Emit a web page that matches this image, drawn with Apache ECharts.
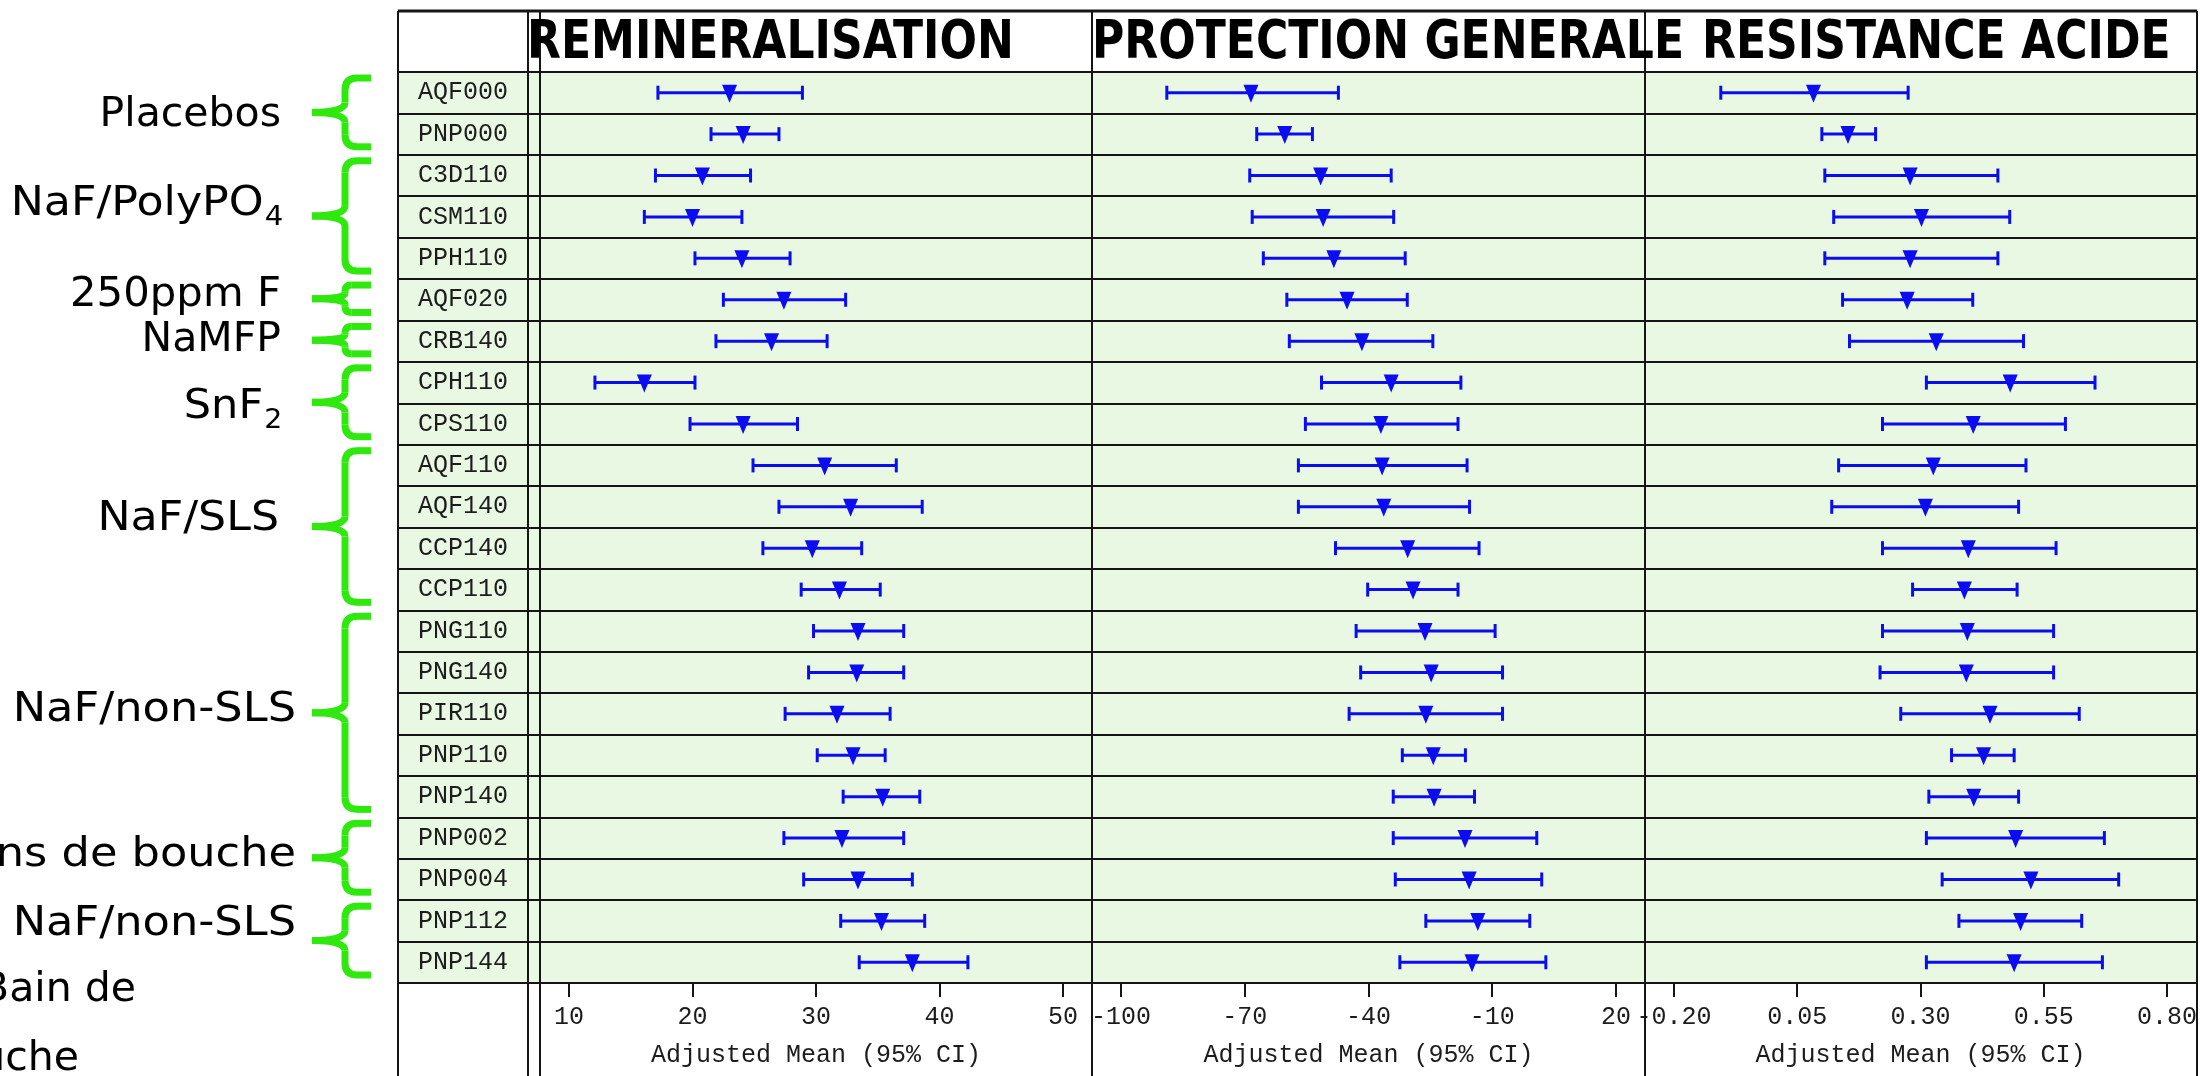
<!DOCTYPE html>
<html>
<head>
<meta charset="utf-8">
<script src="https://cdn.jsdelivr.net/npm/echarts@6/dist/echarts.min.js"></script>
<style>
  html, body { margin: 0; padding: 0; background: #ffffff; }
  #chart { width: 2200px; height: 1076px; }
</style>
</head>
<body>
<div id="chart"></div>
<script>
// Product codes, top to bottom
const products = ['AQF000','PNP000','C3D110','CSM110','PPH110','AQF020','CRB140','CPH110','CPS110',
  'AQF110','AQF140','CCP140','CCP110','PNG110','PNG140','PIR110','PNP110','PNP140','PNP002','PNP004','PNP112','PNP144'];

// REMINERALISATION: adjusted means with 95% CI
const remLow  = [17.2, 21.5, 17.0, 16.1, 20.2, 22.5, 21.9, 12.1, 19.8, 24.9, 27.0, 25.7, 28.8, 29.8, 29.4, 27.5, 30.1, 32.2, 27.4, 29.0, 32.0, 33.5];
const remMean = [23.0, 24.1, 20.8, 20.0, 24.0, 27.4, 26.4, 16.1, 24.1, 30.7, 32.8, 29.7, 31.9, 33.4, 33.3, 31.7, 33.0, 35.4, 32.1, 33.4, 35.3, 37.8];
const remHigh = [28.9, 27.0, 24.7, 24.0, 27.9, 32.4, 30.9, 20.2, 28.5, 36.5, 38.6, 33.7, 35.2, 37.1, 37.1, 36.0, 35.6, 38.4, 37.1, 37.8, 38.8, 42.3];

// PROTECTION GENERALE
const protLow  = [-88.9, -67.1, -68.8, -68.2, -65.5, -59.8, -59.2, -51.4, -55.3, -57.0, -57.0, -48.0, -40.2, -43.0, -41.9, -44.7, -31.8, -34.0, -34.0, -33.5, -26.1, -32.4];
const protMean = [-68.5, -60.3, -51.6, -51.0, -48.4, -45.2, -41.6, -34.5, -37.0, -36.7, -36.3, -30.5, -29.2, -26.3, -24.8, -26.1, -24.3, -24.1, -16.6, -15.6, -13.5, -14.9];
const protHigh = [-47.3, -53.6, -34.5, -33.9, -31.1, -30.6, -24.4, -17.6, -18.3, -16.1, -15.5, -13.2, -18.3, -9.3, -7.5, -7.5, -16.5, -14.3, 0.8, 2.0, -0.9, 3.0];

// RESISTANCE ACIDE
const acidLow  = [-0.105, 0.100, 0.106, 0.124, 0.106, 0.142, 0.156, 0.312, 0.223, 0.134, 0.120, 0.223, 0.284, 0.223, 0.218, 0.260, 0.363, 0.317, 0.312, 0.344, 0.378, 0.312];
const acidMean = [0.083, 0.153, 0.279, 0.302, 0.279, 0.273, 0.332, 0.482, 0.407, 0.326, 0.310, 0.397, 0.389, 0.395, 0.393, 0.441, 0.428, 0.408, 0.493, 0.524, 0.503, 0.490];
const acidHigh = [0.275, 0.209, 0.457, 0.481, 0.457, 0.406, 0.509, 0.654, 0.594, 0.514, 0.499, 0.575, 0.496, 0.570, 0.570, 0.622, 0.490, 0.499, 0.673, 0.702, 0.627, 0.669];

// Axis ticks of each panel
const remTicks  = [10, 20, 30, 40, 50];
const protTicks = [-100, -70, -40, -10, 20];
const acidTicks = [-0.20, 0.05, 0.30, 0.55, 0.80];

const panelTitles = ['REMINERALISATION', 'PROTECTION GENERALE', 'RESISTANCE ACIDE'];
const axisTitle = 'Adjusted Mean (95% CI)';

// Product groups (first and last row of each brace); subscripts written apart
const groupNames = ['Placebos', 'NaF/PolyPO', '250ppm F', 'NaMFP', 'SnF', 'NaF/SLS', 'NaF/non-SLS', 'Bains de bouche', 'NaF/non-SLS'];
const groupSubs  = ['', '4', '', '', '2', '', '', '', ''];
const groupFirst = [0, 2, 5, 6, 7, 9, 13, 18, 20];
const groupLast  = [1, 4, 5, 6, 8, 12, 17, 19, 21];
const footNotes = ['Bain de', 'bouche'];

// ---- layout and styles ----
const BLUE = '#0c0cf0';
const GREEN_BG = '#e8f8e3';
const RULE = '#151515';
const BRACE = '#2fe80e';
const MONO = '"Liberation Mono", "DejaVu Sans Mono", monospace';
const SANS = '"DejaVu Sans", Verdana, sans-serif';
const TITLE_FONT = 'bold 49px "DejaVu Sans Condensed", "DejaVu Sans", sans-serif';

const TABLE_LEFT = 398, LABEL_RIGHT = 528, TABLE_RIGHT = 2197;
const PANEL_X = [540, 1092, 1645, 2197];
const TOP = 11, HEAD_BOTTOM = 72, ROWS_BOTTOM = 983, PAGE_BOTTOM = 1076;
const TITLE_X = [527, 1092, 1702];
const TICK_PAD = 0.0587;   // share of the tick span left free on each side of a panel
const labelRight = [281, 282, 281, 281, 281, 279, 296, 296, 296];
const labelShift = [3, -12, -3, 0, 5, -7, -2, -2, -16];
const labelScale = [1.0, 1.08, 1.02, 1.0, 1.05, 1.08, 1.09, 1.09, 1.09];

const panels = [
  { ticks: remTicks,  low: remLow,  mean: remMean,  high: remHigh,  fmt: v => String(v) },
  { ticks: protTicks, low: protLow, mean: protMean, high: protHigh, fmt: v => String(v) },
  { ticks: acidTicks, low: acidLow, mean: acidMean, high: acidHigh, fmt: v => v.toFixed(2) }
];

const chart = echarts.init(document.getElementById('chart'), null, { renderer: 'canvas' });

const grids = [];
const xAxes = [];
const yAxes = [];
const series = [];

// label column (row names)
grids.push({ left: TABLE_LEFT, top: HEAD_BOTTOM, width: PANEL_X[0] - TABLE_LEFT, height: ROWS_BOTTOM - HEAD_BOTTOM,
  show: true, backgroundColor: GREEN_BG, borderWidth: 0 });
xAxes.push({ type: 'value', gridIndex: 0, show: false, min: 0, max: 1 });
yAxes.push({
  type: 'category', gridIndex: 0, data: products, inverse: true,
  axisLine: { show: false }, axisTick: { show: false },
  splitLine: { show: true, interval: 0, lineStyle: { color: RULE, width: 2 } },
  axisLabel: { show: true, inside: true, interval: 0, margin: 20, fontFamily: MONO, fontSize: 25, color: '#1c1c1c' }
});

panels.forEach((p, i) => {
  const gi = i + 1;
  const span = p.ticks[p.ticks.length - 1] - p.ticks[0];
  grids.push({ left: PANEL_X[i], top: HEAD_BOTTOM, width: PANEL_X[i + 1] - PANEL_X[i], height: ROWS_BOTTOM - HEAD_BOTTOM,
    show: true, backgroundColor: GREEN_BG, borderWidth: 0 });
  xAxes.push({
    type: 'value', gridIndex: gi,
    min: p.ticks[0] - span * TICK_PAD,
    max: p.ticks[p.ticks.length - 1] + span * TICK_PAD,
    axisLine: { show: false },
    splitLine: { show: false },
    axisTick: { show: true, customValues: p.ticks, length: 14, lineStyle: { color: RULE, width: 2 } },
    axisLabel: { customValues: p.ticks, formatter: p.fmt, fontFamily: MONO, fontSize: 25, color: '#1c1c1c', margin: 22 },
    name: axisTitle, nameLocation: 'middle', nameGap: 60,
    nameTextStyle: { fontFamily: MONO, fontSize: 25, color: '#1c1c1c' }
  });
  yAxes.push({
    type: 'category', gridIndex: gi, data: products, inverse: true,
    axisLine: { show: false }, axisTick: { show: false }, axisLabel: { show: false },
    splitLine: { show: true, interval: 0, lineStyle: { color: RULE, width: 2 } }
  });
  // confidence interval bars
  series.push({
    type: 'custom', xAxisIndex: gi, yAxisIndex: gi, z: 3,
    data: products.map((name, k) => [p.low[k], p.high[k], name]),
    encode: { x: [0, 1], y: 2 },
    renderItem: function (params, api) {
      const row = api.value(2);
      const a = api.coord([api.value(0), row]);
      const b = api.coord([api.value(1), row]);
      const cap = 7;
      const style = { stroke: BLUE, lineWidth: 3 };
      return {
        type: 'group',
        children: [
          { type: 'line', shape: { x1: a[0], y1: a[1], x2: b[0], y2: b[1] }, style },
          { type: 'line', shape: { x1: a[0], y1: a[1] - cap, x2: a[0], y2: a[1] + cap }, style },
          { type: 'line', shape: { x1: b[0], y1: b[1] - cap, x2: b[0], y2: b[1] + cap }, style }
        ]
      };
    },
    silent: true
  });
  // adjusted means
  series.push({
    type: 'scatter', xAxisIndex: gi, yAxisIndex: gi, z: 4,
    data: products.map((name, k) => [p.mean[k], name]),
    symbol: 'triangle', symbolRotate: 180, symbolSize: [15, 18], symbolOffset: [0, 1],
    itemStyle: { color: BLUE, opacity: 1 },
    silent: true
  });
});

chart.setOption({
  animation: false,
  backgroundColor: '#ffffff',
  grid: grids,
  xAxis: xAxes,
  yAxis: yAxes,
  series: series
});

// ---- table rules, titles, group braces ----
const graphics = [];
function rule(x1, y1, x2, y2, w) {
  graphics.push({ type: 'line', z: 50, silent: true,
    shape: { x1, y1, x2, y2 }, style: { stroke: RULE, lineWidth: w || 2 } });
}
rule(TABLE_LEFT, TOP, TABLE_RIGHT, TOP, 3);
rule(TABLE_LEFT, HEAD_BOTTOM, TABLE_RIGHT, HEAD_BOTTOM, 2);
rule(TABLE_LEFT, ROWS_BOTTOM, TABLE_RIGHT, ROWS_BOTTOM, 2);
[TABLE_LEFT, LABEL_RIGHT].concat(PANEL_X).forEach(x => rule(x, TOP, x, PAGE_BOTTOM, 2));

panelTitles.forEach((t, i) => {
  graphics.push({ type: 'text', z: 60, silent: true,
    x: TITLE_X[i], y: (TOP + HEAD_BOTTOM) / 2 + 3, scaleY: 1.08,
    style: { text: t, x: 0, y: 0, align: 'left', verticalAlign: 'middle',
      font: TITLE_FONT, fill: '#000000' } });
});

const rowY = k => chart.convertToPixel({ yAxisIndex: 0 }, products[k]);
const rowH = rowY(1) - rowY(0);
const HOOK_X = 371, STEM_X = 345, TIP_X = 312;

function braceParts(y0, y1) {
  const ym = (y0 + y1) / 2;
  const r = Math.min(12, (ym - y0) / 2.2);
  const rm = Math.min(10, (ym - y0) / 2.5);
  const st = { stroke: BRACE, lineWidth: 7, fill: null, lineCap: 'butt' };
  const seg = (x1, yA, x2, yB) => ({ type: 'line', shape: { x1, y1: yA, x2, y2: yB }, style: st });
  const curve = (x1, yA, cx, cy, x2, yB) => ({ type: 'bezierCurve',
    shape: { x1, y1: yA, cpx1: cx, cpy1: cy, x2, y2: yB }, style: st });
  return [
    seg(HOOK_X, y0, STEM_X + r, y0),
    curve(STEM_X + r, y0, STEM_X, y0, STEM_X, y0 + r),
    seg(STEM_X, y0 + r, STEM_X, ym - rm),
    curve(STEM_X, ym - rm, STEM_X, ym, TIP_X, ym),
    curve(TIP_X, ym, STEM_X, ym, STEM_X, ym + rm),
    seg(STEM_X, ym + rm, STEM_X, y1 - r),
    curve(STEM_X, y1 - r, STEM_X, y1, STEM_X + r, y1),
    seg(STEM_X + r, y1, HOOK_X, y1)
  ];
}

const SUB_W = 17;
groupNames.forEach((name, g) => {
  const y0 = rowY(groupFirst[g]) - rowH / 2 + 6;
  const y1 = rowY(groupLast[g]) + rowH / 2 - 8;
  const ym = (y0 + y1) / 2;
  graphics.push({ type: 'group', z: 40, silent: true, children: braceParts(y0, y1) });
  const subW = groupSubs[g] ? SUB_W : 0;
  const children = [{ type: 'text', style: { text: name, x: -subW, y: 0, align: 'right', verticalAlign: 'middle',
    font: '41px ' + SANS, fill: '#000000' } }];
  if (groupSubs[g]) {
    children.push({ type: 'text', style: { text: groupSubs[g], x: -subW + 1, y: 14, align: 'left', verticalAlign: 'middle',
      font: '27px ' + SANS, fill: '#000000' } });
  }
  graphics.push({ type: 'group', z: 40, silent: true, x: labelRight[g], y: ym + labelShift[g],
    scaleX: labelScale[g], children });
});

// note under the last group
graphics.push({ type: 'text', z: 40, silent: true,
  style: { text: footNotes[0], x: 136, y: 990, align: 'right', verticalAlign: 'middle', font: '41px ' + SANS, fill: '#000000' } });
graphics.push({ type: 'text', z: 40, silent: true,
  style: { text: footNotes[1], x: 79, y: 1059, align: 'right', verticalAlign: 'middle', font: '41px ' + SANS, fill: '#000000' } });

chart.setOption({ graphic: graphics });
</script>
</body>
</html>
